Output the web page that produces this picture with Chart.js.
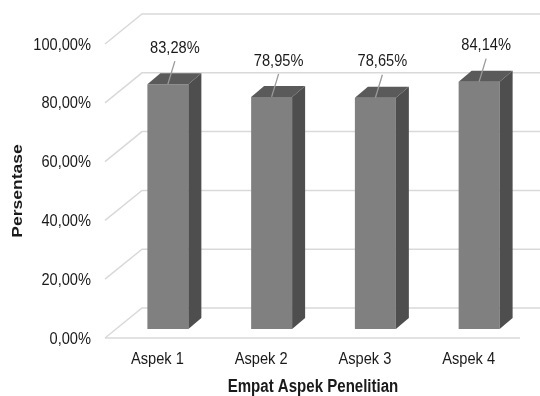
<!DOCTYPE html>
<html>
<head>
<meta charset="utf-8">
<script src="https://cdn.jsdelivr.net/npm/chart.js@4"></script>
<style>
  body { margin: 0; background: #fff; }
  canvas { display: block; }
</style>
</head>
<body>
<canvas id="grafico" width="540" height="396"></canvas>
<script>
const aspek = ["Aspek 1", "Aspek 2", "Aspek 3", "Aspek 4"];
const persentase = [83.28, 78.95, 78.65, 84.14];
const tickY = [0, 20, 40, 60, 80, 100];

const judulX = "Empat Aspek Penelitian";
const judulY = "Persentase";

const warnaDepan = "#808080";
const warnaSamping = "#4e4e4e";
const warnaAtas = "#5a5a5a";
const warnaGrid = "#d9d9d9";
const warnaTeks = "#1a1a1a";
const fontBiasa = "17px 'Liberation Sans', Arial, sans-serif";
const fontTebal = "bold 17.5px 'Liberation Sans', Arial, sans-serif";

function persen(v) {
    return v.toFixed(2).replace(".", ",") + "%";
}

// teks agak dipadatkan horizontal seperti gambar asli
function teks(ctx, str, x, y, align, font, rot) {
    ctx.save();
    ctx.translate(x, y);
    ctx.scale(0.86, 1);
    if (rot) ctx.rotate(rot);
    ctx.font = font;
    ctx.fillStyle = warnaTeks;
    ctx.textAlign = align;
    ctx.textBaseline = "middle";
    ctx.fillText(str, 0, 0);
    ctx.restore();
}

const tigaDimensi = {
    id: "tigaDimensi",
    beforeDatasetsDraw(chart) {
        const ctx = chart.ctx;
        const area = chart.chartArea;
        const y = chart.scales.y;
        ctx.save();
        ctx.strokeStyle = warnaGrid;
        ctx.lineWidth = 1.5;
        tickY.forEach(v => {
            const py = y.getPixelForValue(v);
            ctx.beginPath();
            ctx.moveTo(area.left - 11, py + 9);
            ctx.lineTo(area.left + 26, py - 21);
            ctx.lineTo(chart.width + 5, py - 21);
            ctx.stroke();
        });
        // garis depan lantai
        const p0 = y.getPixelForValue(0);
        ctx.beginPath();
        ctx.moveTo(area.left - 11, p0 + 9);
        ctx.lineTo(area.right - 11, p0 + 9);
        ctx.stroke();
        ctx.restore();
    },
    afterDatasetsDraw(chart) {
        const ctx = chart.ctx;
        const meta = chart.getDatasetMeta(0);
        const dx = 13, dy = -11;
        ctx.save();
        meta.data.forEach((bar, i) => {
            const p = bar.getProps(["x", "y", "base", "width"], true);
            const kiri = p.x - p.width / 2;
            const kanan = p.x + p.width / 2;
            ctx.fillStyle = warnaSamping;
            ctx.beginPath();
            ctx.moveTo(kanan, p.y);
            ctx.lineTo(kanan + dx, p.y + dy);
            ctx.lineTo(kanan + dx, p.base + dy);
            ctx.lineTo(kanan, p.base);
            ctx.closePath();
            ctx.fill();
            ctx.fillStyle = warnaAtas;
            ctx.beginPath();
            ctx.moveTo(kiri, p.y);
            ctx.lineTo(kiri + dx, p.y + dy);
            ctx.lineTo(kanan + dx, p.y + dy);
            ctx.lineTo(kanan, p.y);
            ctx.closePath();
            ctx.fill();

            // label data + garis penunjuk
            const lx = p.x + 7;
            const ly = p.y - 36;
            ctx.strokeStyle = "#9a9a9a";
            ctx.lineWidth = 1.3;
            ctx.beginPath();
            ctx.moveTo(p.x, p.y);
            ctx.lineTo(lx, ly + 13);
            ctx.stroke();
            teks(ctx, persen(persentase[i]), lx, ly, "center", fontBiasa);
        });
        ctx.restore();
    },
    afterDraw(chart) {
        const ctx = chart.ctx;
        const area = chart.chartArea;
        const x = chart.scales.x;
        const y = chart.scales.y;
        tickY.forEach(v => {
            teks(ctx, persen(v), area.left - 25, y.getPixelForValue(v) + 10, "right", fontBiasa);
        });
        aspek.forEach((a, i) => {
            teks(ctx, a, x.getPixelForValue(i) - 10.5, y.getPixelForValue(0) + 30, "center", fontBiasa);
        });
        teks(ctx, judulX, (area.left + area.right) / 2 - 10.5, 387, "center", fontTebal);
        teks(ctx, judulY, 18, 191, "center", fontTebal, -Math.PI / 2);
    }
};

const ctx = document.getElementById("grafico");

new Chart(ctx, {
    type: "bar",
    data: {
        labels: aspek,
        datasets: [
            {
                label: judulY,
                data: persentase,
                backgroundColor: warnaDepan,
                borderWidth: 0,
                barPercentage: 0.395,
                categoryPercentage: 1,
            },
        ],
    },
    options: {
        responsive: false,
        animation: false,
        layout: {
            padding: { left: 116, right: 9, top: 35, bottom: 67 },
        },
        plugins: {
            legend: { display: false },
            tooltip: { enabled: false },
        },
        scales: {
            x: { display: false },
            y: { display: false, min: 0, max: 100 },
        },
    },
    plugins: [tigaDimensi],
});
</script>
</body>
</html>
